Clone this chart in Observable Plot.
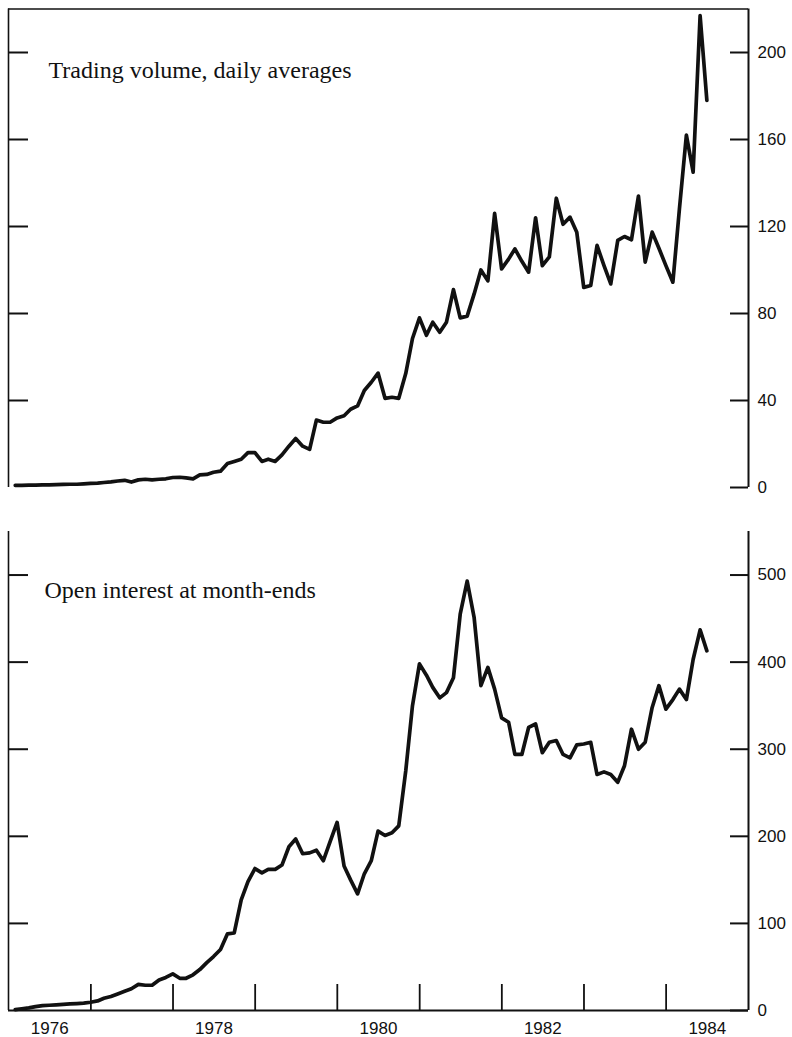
<!DOCTYPE html>
<html>
<head>
<meta charset="utf-8">
<script src="https://cdn.jsdelivr.net/npm/d3@7"></script>
<script src="https://cdn.jsdelivr.net/npm/@observablehq/plot@0.6"></script>
<style>
  html, body { margin: 0; padding: 0; background: #fff; }
  #chart { width: 792px; height: 1037px; position: relative; }
  #chart svg { display: block; }
</style>
</head>
<body>
<div id="chart"></div>
<script>
// ---- Data (monthly, January 1976 – June 1984) ----
const startYear = 1976;
const endYear = 1985;

// Trading volume, daily averages (monthly)
const volume = [
  1.0, 1.0, 1.1, 1.1, 1.2, 1.2, 1.3, 1.4, 1.5, 1.5, 1.7, 1.9,
  2.0, 2.3, 2.6, 3.0, 3.3, 2.5, 3.5, 3.8, 3.5, 3.8, 4.0, 4.6,
  4.7, 4.4, 4.0, 5.8, 6.0, 7.0, 7.5, 11, 12, 13, 16, 16,
  12, 13, 12, 15, 19, 22.5, 19, 17.5, 31, 30, 30, 32,
  33, 36, 37.5, 44.6, 48.4, 52.6, 41, 41.5, 41, 52.4, 68.5, 78,
  70, 76, 71.4, 76, 91, 78, 78.8, 89, 100, 95, 126, 100.5,
  105, 109.7, 104, 99, 124, 102, 106, 133, 121, 124.3, 117.4, 92,
  92.9, 111.3, 102, 93.6, 113.6, 115.4, 113.9, 134, 103.6, 117.4, 110, 102,
  94.4, 128, 162, 145, 217, 178
];

// Open interest at month-ends
const openInterest = [
  1, 2, 3, 4.5, 5.5, 6, 6.5, 7, 7.5, 8, 8.5, 9.5,
  11, 14, 16, 19, 22, 25, 30, 29, 29, 35, 38, 42,
  37, 37, 41, 47, 55, 62, 70, 88, 89, 127, 148, 163,
  158, 162, 162, 167, 188, 197, 180, 181, 184, 172, 194, 216,
  166, 150, 134, 157, 172, 206, 201, 204, 212, 275, 350, 398,
  385, 371, 359, 365, 382, 455, 493, 451, 373, 394, 369, 336,
  331, 294, 294, 325, 329, 296, 308, 310, 294, 290, 305, 306,
  308, 271, 274, 271, 262, 281, 323, 300, 308, 348, 373, 346,
  357, 369, 357, 403, 437, 413
];

const volumeTicks = [0, 40, 80, 120, 160, 200];
const oiTicks = [0, 100, 200, 300, 400, 500];
const yearBoundaries = [1977, 1978, 1979, 1980, 1981, 1982, 1983, 1984];
const yearLabels = [1976, 1978, 1980, 1982, 1984];
const titles = ["Trading volume, daily averages", "Open interest at month-ends"];

// ---- Derived tables ----
const monthEnd = (i) => new Date(Date.UTC(startYear, i + 1, 0));
const volumeData = volume.map((v, i) => ({date: monthEnd(i), value: v}));
const oiData = openInterest.map((v, i) => ({date: monthEnd(i), value: v}));
const xStart = new Date(Date.UTC(startYear, 0, 1));
const xEnd = new Date(Date.UTC(endYear, 0, 1));
const xDomain = [xStart, xEnd];

const ink = "#111";
const serif = "'Liberation Serif', 'Times New Roman', serif";
const sans = "'Liberation Sans', Arial, sans-serif";

const common = {
  width: 792,
  marginLeft: 8,
  marginRight: 44,
  x: {type: "utc", domain: xDomain, axis: null},
  style: {background: "#fff", color: ink, fontFamily: sans, overflow: "visible"}
};

const topPanel = Plot.plot({
  ...common,
  height: 495,
  marginTop: 8.5,
  marginBottom: 8,
  y: {domain: [0, 220], axis: null},
  marks: [
    Plot.ruleY([220], {stroke: ink, strokeWidth: 1.3}),
    Plot.ruleX([xStart], {stroke: ink, strokeWidth: 1.6}),
    Plot.ruleX([xEnd], {stroke: ink, strokeWidth: 2}),
    Plot.ruleY(volumeTicks.filter((d) => d > 0), {y: (d) => d, x1: () => xStart, x2: () => xStart, insetRight: -20, stroke: ink, strokeWidth: 2}),
    Plot.ruleY(volumeTicks, {y: (d) => d, x1: () => xEnd, x2: () => xEnd, insetLeft: -18, stroke: ink, strokeWidth: 2}),
    Plot.axisY(volumeTicks, {anchor: "right", label: null, tickSize: 0, tickPadding: 9, fontSize: 17, fill: ink}),
    Plot.line(volumeData, {x: "date", y: "value", stroke: ink, strokeWidth: 3.7, strokeLinejoin: "round"}),
    Plot.text([titles[0]], {frameAnchor: "top-left", dx: 40, dy: 68.5, lineAnchor: "bottom", textAnchor: "start",
      fontSize: 24, fontFamily: serif, fill: ink, letterSpacing: 1.2})
  ]
});

const bottomPanel = Plot.plot({
  ...common,
  height: 542,
  marginTop: 36,
  marginBottom: 27,
  y: {domain: [0, 550], axis: null},
  marks: [
    Plot.ruleY([0], {stroke: ink, strokeWidth: 2}),
    Plot.ruleX([xStart], {stroke: ink, strokeWidth: 1.6}),
    Plot.ruleX([xEnd], {stroke: ink, strokeWidth: 2}),
    Plot.ruleY(oiTicks.filter((d) => d > 0), {y: (d) => d, x1: () => xStart, x2: () => xStart, insetRight: -20, stroke: ink, strokeWidth: 2}),
    Plot.ruleY(oiTicks, {y: (d) => d, x1: () => xEnd, x2: () => xEnd, insetLeft: -18, stroke: ink, strokeWidth: 2}),
    Plot.ruleX(yearBoundaries, {x: (d) => new Date(Date.UTC(d, 0, 1)), y1: () => 0, y2: () => 0, insetTop: -26, stroke: ink, strokeWidth: 1.8}),
    Plot.axisY(oiTicks, {anchor: "right", label: null, tickSize: 0, tickPadding: 9, fontSize: 17, fill: ink}),
    Plot.axisX(yearLabels.map((y) => new Date(Date.UTC(y, 6, 2))), {anchor: "bottom", label: null, tickSize: 0, tickPadding: 11,
      tickFormat: (d) => String(d.getUTCFullYear()), fontSize: 17, fill: ink}),
    Plot.line(oiData, {x: "date", y: "value", stroke: ink, strokeWidth: 3.7, strokeLinejoin: "round"}),
    Plot.text([titles[1]], {frameAnchor: "top-left", dx: 36, dy: 66, lineAnchor: "bottom", textAnchor: "start",
      fontSize: 24, fontFamily: serif, fill: ink, letterSpacing: 1.2})
  ]
});

const chart = document.getElementById("chart");
chart.appendChild(topPanel);
chart.appendChild(bottomPanel);
</script>
</body>
</html>
